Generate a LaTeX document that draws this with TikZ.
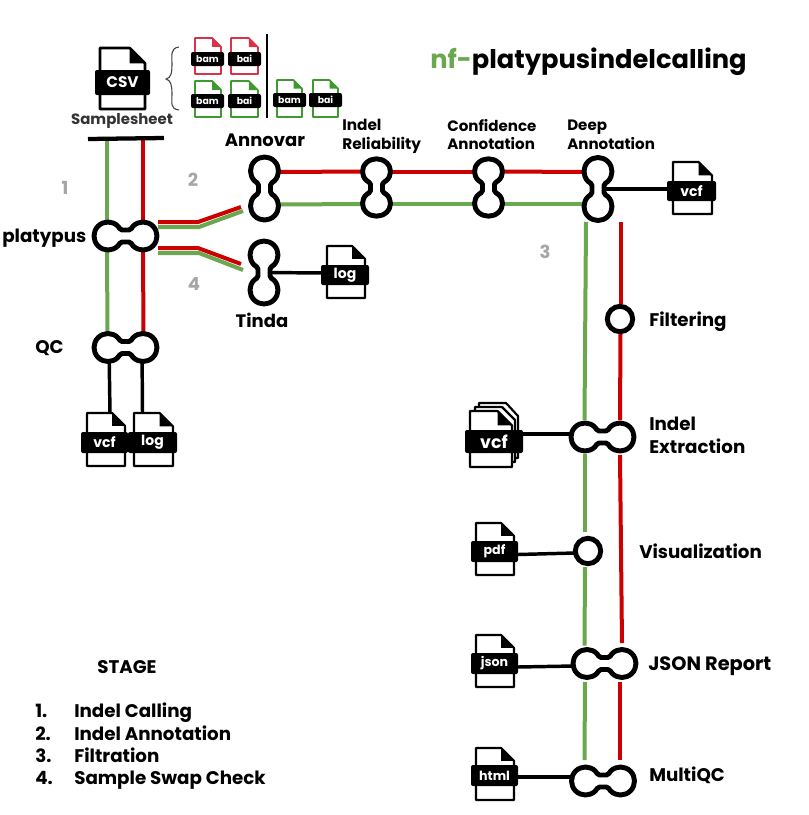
\documentclass[tikz,border=0pt]{standalone}
\usepackage{fontspec}
\setmainfont{Poppins}
\definecolor{lgreen}{HTML}{6AA84F}
\definecolor{lred}{HTML}{CC0000}
\definecolor{fred}{HTML}{D9324A}
\definecolor{fgreen}{HTML}{3E9A2E}
\definecolor{stagegray}{HTML}{A6A6A6}
\tikzset{
  x=0.75pt,y=-0.75pt,
  greenline/.style={draw=lgreen,line width=3pt},
  redline/.style={draw=lred,line width=3pt},
  blackline/.style={draw=black,line width=2.6pt},
  stationline/.style={draw=black,fill=white,line width=3.7pt,line join=round},
  lab/.style={font=\bfseries\fontsize{13.7}{17.3}\selectfont,text=black,inner sep=0pt},
  leftlab/.style={lab,anchor=west,align=left},
  numlab/.style={font=\bfseries\fontsize{13.5}{15}\selectfont,text=stagegray,inner sep=0pt},
  stagelab/.style={font=\bfseries\fontsize{13.7}{15}\selectfont,text=black,inner sep=0pt,anchor=base west},
  filetag/.style={fill=black,rounded corners=1.5pt,text=white,inner sep=0pt,font=\bfseries},
  dumb/.pic={
    \path[stationline] (-7.6,-9.9) .. controls (-6.5,-8.8) and (-5.5,-6) .. (-3.5,-6) -- (3.5,-6)
      .. controls (5.5,-6) and (6.5,-8.8) .. (7.6,-9.9)
      arc[start angle=225,end angle=495,radius=14]
      .. controls (6.5,8.8) and (5.5,6) .. (3.5,6) -- (-3.5,6)
      .. controls (-5.5,6) and (-6.5,8.8) .. (-7.6,9.9)
      arc[start angle=45,end angle=315,radius=14] -- cycle;
  },
}
% name, text, left, top, right, bottom, tag-left, tag-top, tag-right | tag-bottom, colour, line width(pt), fontsize
\newcommand\fileicon[9]{%
  \def\fname{#1}\def\ftext{#2}\def\fl{#3}\def\ftop{#4}\def\fr{#5}\def\fb{#6}\def\tagl{#7}\def\tagt{#8}\def\tagr{#9}\fileiconb}
\newcommand\fileiconb[4]{%
  \pgfmathsetmacro\fold{(\fr-\fl)*0.34}
  \pgfmathsetmacro\fx{\fr-\fold}\pgfmathsetmacro\fy{\ftop+\fold}
  \path[draw=#2,fill=white,line width=#3pt,line join=round] (\fl,\ftop) -- (\fx,\ftop) -- (\fr,\fy) -- (\fr,\fb) -- (\fl,\fb) -- cycle;
  \path[fill=#2] (\fx,\ftop) -- (\fr,\fy) -- (\fx,\fy) -- cycle;
  \pgfmathsetmacro\tagw{(\tagr-\tagl)*0.75}\pgfmathsetmacro\tagh{(#1-\tagt)*0.75}
  \node[filetag,minimum width=\tagw pt,minimum height=\tagh pt,font=\bfseries\fontsize{#4}{#4}\selectfont] (\fname) at ({(\tagl+\tagr)/2},{(\tagt+#1)/2}) {\ftext};
}
\begin{document}
\begin{tikzpicture}
\useasboundingbox (0,0) rectangle (809,815);
\fill[white] (0,0) rectangle (809,815);
% station centres
\coordinate (platy) at (125.5,236);
\coordinate (qc) at (125.5,347.5);
\coordinate (qcL) at (109,347.5);
\coordinate (qcR) at (142,347.5);
\coordinate (ann) at (264.5,188.5);
\coordinate (annT) at (264.5,172);
\coordinate (annB) at (264.5,204.5);
\coordinate (tinda) at (264,272.5);
\coordinate (rel) at (376.5,187.5);
\coordinate (relT) at (376.5,171.5);
\coordinate (relB) at (376.5,204);
\coordinate (conf) at (488.5,187.5);
\coordinate (confT) at (488.5,171.5);
\coordinate (confB) at (488.5,204);
\coordinate (deep) at (598,189);
\coordinate (deepT) at (598,172);
\coordinate (deepB) at (598,204);
\coordinate (filt) at (620,319);
\coordinate (ext) at (602.5,437);
\coordinate (vis) at (588,551);
\coordinate (jsonr) at (604.5,663.5);
\coordinate (mqc) at (603,781);
% free ends
\coordinate (barL) at (88,139); \coordinate (barR) at (164,138);
\coordinate (gTop) at (107,139); \coordinate (rTop) at (143,139);
\coordinate (gQC) at (107.5,333); \coordinate (rQC) at (143.5,333);
\coordinate (gPlat) at (107,221); \coordinate (rPlat) at (143,221);
\coordinate (gPlatB) at (107,251); \coordinate (rPlatB) at (143,251);
\coordinate (a1) at (158,222); \coordinate (a2) at (198,222); \coordinate (a3) at (241,207);
\coordinate (b1) at (158,227); \coordinate (b2) at (199,227); \coordinate (b3) at (243,211);
\coordinate (c1) at (158,248); \coordinate (c2) at (198,248); \coordinate (c3) at (241,264);
\coordinate (d1) at (158,253); \coordinate (d2) at (199,253); \coordinate (d3) at (243,270);
\coordinate (g1) at (586,222); \coordinate (g2) at (584.5,420);
\coordinate (g3) at (585,454); \coordinate (g4) at (585,532);
\coordinate (g5) at (585,567); \coordinate (g6) at (584.5,645.5);
\coordinate (g7) at (585,682); \coordinate (g8) at (584.5,760);
\coordinate (r1) at (620.5,222); \coordinate (r2) at (620.5,304);
\coordinate (r3) at (620.5,334); \coordinate (r4) at (620,420);
\coordinate (r5) at (620,455); \coordinate (r6) at (622,643);
\coordinate (r7) at (619.5,682); \coordinate (r8) at (619.5,760);
\coordinate (qv) at (110,413); \coordinate (ql) at (142.5,413);
\coordinate (tagd) at (673,189);
\coordinate (tagt) at (327,273);
\coordinate (tagx) at (523,434);
\coordinate (extx) at (575,434);
\coordinate (tagp) at (518,554.5);
\coordinate (visx) at (575,553);
\coordinate (tagj) at (518,667);
\coordinate (jsx) at (574,666);
\coordinate (tagh) at (518,777);
\coordinate (hx) at (572,777);
% connectors
\draw[greenline] (gTop) -- (gPlat);
\draw[redline] (rTop) -- (rPlat);
\draw[greenline] (gPlatB) -- (gQC);
\draw[redline] (rPlatB) -- (rQC);
\draw[line width=3.2pt,draw=black] (barL) -- (barR);
\draw[redline] (a1) -- (a2) -- (a3);
\draw[greenline] (b1) -- (b2) -- (b3);
\draw[redline] (c1) -- (c2) -- (c3);
\draw[greenline] (d1) -- (d2) -- (d3);
\draw[redline] (annT) -- (relT);
\draw[greenline] (annB) -- (relB);
\draw[redline] (relT) -- (confT);
\draw[greenline] (relB) -- (confB);
\draw[redline] (confT) -- (deepT);
\draw[greenline] (confB) -- (deepB);
\draw[greenline] (g1) -- (g2);
\draw[greenline] (g3) -- (g4);
\draw[greenline] (g5) -- (g6);
\draw[greenline] (g7) -- (g8);
\draw[redline] (r1) -- (r2);
\draw[redline] (r3) -- (r4);
\draw[redline] (r5) -- (r6);
\draw[redline] (r7) -- (r8);
% file connectors
\draw[blackline] (qcL) -- (qv);
\draw[blackline] (qcR) -- (ql);
\draw[blackline] (deep) -- (tagd);
\draw[blackline] (tinda) -- (tagt);
\draw[blackline] (extx) -- (tagx);
\draw[blackline] (visx) -- (tagp);
\draw[blackline] (jsx) -- (tagj);
\draw[blackline] (hx) -- (tagh);
% file icons
\fileicon{fcsv}{CSV}{100}{48}{145}{109}{95}{70}{150}{95}{black}{2}{11.5}
\fileicon{bam1}{bam}{195}{38}{221}{74}{191}{52}{224}{66}{fred}{1.2}{7}
\fileicon{bai1}{bai}{231}{38}{258}{74}{228}{52}{261}{66}{fred}{1.2}{7}
\fileicon{bam2}{bam}{195}{81}{221}{117}{191}{94}{224}{108}{fgreen}{1.2}{7}
\fileicon{bai2}{bai}{231}{81}{258}{117}{228}{94}{261}{108}{fgreen}{1.2}{7}
\fileicon{bam3}{bam}{277}{80}{302}{117}{273}{93}{306}{107}{fgreen}{1.2}{7}
\fileicon{bai3}{bai}{313}{80}{338}{117}{309}{93}{342}{107}{fgreen}{1.2}{7}
\path[draw=black,line width=0.8pt] (267,34) -- (267,118);
\path[draw=black!75,line width=0.8pt] (179,47) .. controls (170,48) and (172,56) .. (172,64) .. controls (172,73) and (171,78) .. (166,79) .. controls (171,80) and (172,86) .. (172,94) .. controls (172,103) and (170,109) .. (179,110);
\fileicon{flogt}{log}{327}{246}{365}{298}{321}{265}{369}{285}{black}{1.6}{10.5}
\fileicon{fvcfq}{vcf}{87}{413}{125}{466}{81}{432}{128}{453}{black}{1.6}{10.5}
\fileicon{flogq}{log}{134}{413}{173}{466}{128}{432}{177}{453}{black}{1.6}{10.5}
\fileicon{fvcfd}{vcf}{673}{162}{712}{214}{667}{181}{716}{201}{black}{1.6}{10.5}
\fileicon{fpdf}{pdf}{476}{523}{514}{575}{471}{541}{518}{562}{black}{1.6}{9.5}
\fileicon{fjson}{json}{476}{635}{514}{687}{471}{653}{518}{674}{black}{1.6}{9.5}
\fileicon{fhtml}{html}{476}{748}{514}{800}{471}{765}{518}{786}{black}{1.6}{9.5}
\path[draw=black,fill=white,line width=1.6pt,line join=round] (479,403) -- (506,403) -- (518,416) -- (518,458) -- (479,458) -- cycle;
\path[draw=black,fill=white,line width=1.6pt,line join=round] (475,407) -- (502,407) -- (515,420) -- (515,462) -- (475,462) -- cycle;
\fileicon{fvcfx}{vcf}{470}{411}{512}{467}{465}{430}{523}{453}{black}{1.6}{13}
% stations
\pic at (platy) {dumb};
\pic at (qc) {dumb};
\pic[rotate=90] at (ann) {dumb};
\pic[rotate=90] at (tinda) {dumb};
\pic[rotate=90,xscale=0.91] at (rel) {dumb};
\pic[rotate=90,xscale=0.91] at (conf) {dumb};
\pic[rotate=90] at (deep) {dumb};
\pic at (ext) {dumb};
\pic at (jsonr) {dumb};
\pic at (mqc) {dumb};
\node[circle,draw=black,fill=white,line width=3.7pt,minimum size=19pt,inner sep=0pt] (filtc) at (filt) {};
\node[circle,draw=black,fill=white,line width=3.7pt,minimum size=19pt,inner sep=0pt] (visc) at (vis) {};
% labels
\node[inner sep=0pt,font=\bfseries\fontsize{19.3}{24}\selectfont] (title) at (588.5,62) {\textcolor{lgreen}{nf-}platypusindelcalling};
\node[lab,text=black!80,font=\bfseries\fontsize{11.2}{14}\selectfont] (sheet) at (122,121) {Samplesheet};
\node[lab,font=\bfseries\fontsize{13.5}{15}\selectfont] (lann) at (265,140) {Annovar};
\node[leftlab,font=\bfseries\fontsize{11.5}{14.2}\selectfont] (lrel) at (342,136.5) {Indel\\Reliability};
\node[leftlab,font=\bfseries\fontsize{11.3}{14.2}\selectfont] (lconf) at (447,134.5) {Confidence\\Annotation};
\node[leftlab,font=\bfseries\fontsize{11.3}{14.2}\selectfont] (ldeep) at (567,134.5) {Deep\\Annotation};
\node[leftlab] (lplat) at (2,238) {platypus};
\node[leftlab] (lqc) at (35,348) {QC};
\node[lab,font=\bfseries\fontsize{13.5}{15}\selectfont] (ltinda) at (262,320) {Tinda};
\node[leftlab] (lfilt) at (649,322) {Filtering};
\node[leftlab] (lext) at (649,435) {Indel\\Extraction};
\node[leftlab] (lvis) at (639,551) {Visualization};
\node[leftlab,font=\bfseries\fontsize{14.5}{17}\selectfont] (ljson) at (648,666) {JSON Report};
\node[leftlab] (lmqc) at (649,775) {MultiQC};
\node[numlab] (n1) at (65,188) {1};
\node[numlab] (n2) at (193,180) {2};
\node[numlab] (n3) at (545,252) {3};
\node[numlab] (n4) at (194,284) {4};
\node[stagelab] (stage) at (97,673.5) {STAGE};
\node[stagelab] (s1n) at (35,717) {1.};
\node[stagelab] (s1) at (74,717) {Indel Calling};
\node[stagelab] (s2n) at (35,740.5) {2.};
\node[stagelab] (s2) at (74,740.5) {Indel Annotation};
\node[stagelab] (s3n) at (35,762.5) {3.};
\node[stagelab] (s3) at (74,762.5) {Filtration};
\node[stagelab] (s4n) at (35,784) {4.};
\node[stagelab] (s4) at (74,784) {Sample Swap Check};
\end{tikzpicture}
\end{document}
